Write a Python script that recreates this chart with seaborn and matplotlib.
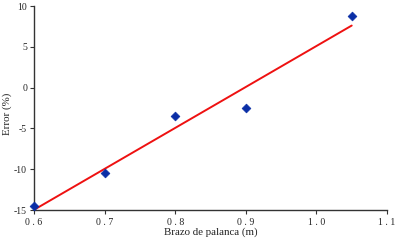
import matplotlib
matplotlib.use("Agg")
import matplotlib.pyplot as plt
import seaborn as sns
import pandas as pd

x_vals = [0.6, 0.7, 0.8, 0.9, 1.05]
y_vals = [-14.5, -10.5, -3.5, -2.5, 8.8]
x_ticks = [0.6, 0.7, 0.8, 0.9, 1.0, 1.1]
x_tick_labels = ["0.6", "0.7", "0.8", "0.9", "1.0", "1.1"]
y_ticks = [-15, -10, -5, 0, 5, 10]
y_tick_labels = ["-15", "-10", "-5", "0", "5", "10"]

sns.set_style("ticks")
plt.rcParams['font.family'] = ['Liberation Serif', 'DejaVu Serif']
plt.rcParams['axes.unicode_minus'] = False

df = pd.DataFrame({"x": x_vals, "y": y_vals})

fig = plt.figure(figsize=(3.95, 2.42), dpi=100)
ax = fig.add_axes([34/395, 1-210/242, (387-34)/395, (210-6)/242])

sns.regplot(data=df, x="x", y="y", ax=ax, ci=None, marker="D",
            scatter_kws=dict(s=20, color="#0a2ea6", edgecolor="#0a2ea6", linewidths=0.5,
                             alpha=1.0, zorder=3, clip_on=False),
            line_kws=dict(color="#ee1111", lw=1.4, zorder=2))

ax.set_xlim(0.6, 1.1)
ax.set_ylim(-15, 10)
ax.set_xticks(x_ticks)
ax.set_xticklabels([" ".join(list(t)) for t in x_tick_labels])
ax.set_yticks(y_ticks)
ax.set_yticklabels(y_tick_labels)
ax.tick_params(axis='both', labelsize=7, length=3, width=0.8, color="#333333", labelcolor="#222222")
ax.tick_params(axis='x', pad=3)
ax.tick_params(axis='y', pad=2)
for s in ["top", "right"]:
    ax.spines[s].set_visible(False)
for s in ["left", "bottom"]:
    ax.spines[s].set_linewidth(1.0)
    ax.spines[s].set_color("#333333")
ax.set_xlabel("Brazo de palanca (m)", fontsize=7.8, color="#222222")
ax.set_ylabel("Error (%)", fontsize=7.8, color="#222222")
ax.xaxis.set_label_coords(0.5, -0.085)
ax.yaxis.set_label_coords(-0.062, 0.47)

fig.savefig("out.png", dpi=100)
